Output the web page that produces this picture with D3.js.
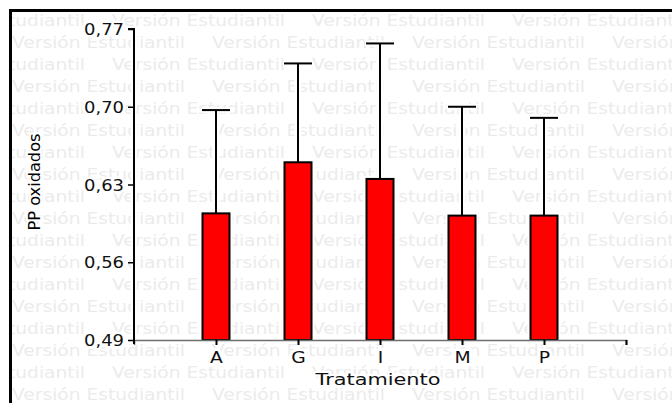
<!DOCTYPE html>
<html><head><meta charset="utf-8">
<script src="https://cdn.jsdelivr.net/npm/d3@7"></script>
<style>html,body{margin:0;padding:0;background:#fff;}svg{display:block;}</style>
</head><body>
<svg id="chart" width="672" height="403"></svg>
<script>
const categories = ["A", "G", "I", "M", "P"];
const means = [0.604, 0.650, 0.635, 0.602, 0.602];
const upper = [0.697, 0.739, 0.757, 0.700, 0.690];
const yTicks = [0.49, 0.56, 0.63, 0.70, 0.77];
const yLabel = "PP oxidados";
const xLabel = "Tratamiento";
const watermark = "Versión Estudiantil";

const svg = d3.select("#chart");
const W = 672, H = 403;
const FONT = "DejaVu Sans, Verdana, sans-serif";

svg.append("defs").append("clipPath").attr("id", "inner")
  .append("rect").attr("x", 12).attr("y", 12).attr("width", W).attr("height", H);

// watermark
const wm = svg.append("g").attr("clip-path", "url(#inner)");
for (let r = 0; r < 18; r++) {
  const baseY = 26 + 22 * r;
  const start = (r % 2 === 0) ? -88 : 12;
  for (let x = start; x < W; x += 200) {
    wm.append("text").attr("x", x).attr("y", baseY)
      .attr("font-family", FONT).attr("font-size", 16)
      .attr("fill", "#ecebeb")
      .attr("textLength", 173).attr("lengthAdjust", "spacingAndGlyphs")
      .text(watermark);
  }
}
svg.append("rect").attr("x", 10.5).attr("y", 10.5).attr("width", W).attr("height", H)
  .attr("fill", "none").attr("stroke", "#000").attr("stroke-width", 3);

// scales
const xDomain = ["__start"].concat(categories, ["__end"]);
const x = d3.scalePoint().domain(xDomain).range([134, 626]);
const y = d3.scaleLinear().domain([0.49, 0.77]).range([340, 29]);
const barW = 27;

const halo = svg.append("g");
const marks = svg.append("g");

categories.forEach((c, i) => {
  const cx = x(c);
  halo.append("rect").attr("x", cx - barW / 2 - 3).attr("y", y(means[i]) - 3)
    .attr("width", barW + 6).attr("height", y(0.49) - y(means[i]) + 3).attr("fill", "#fff");
  halo.append("line").attr("x1", cx).attr("x2", cx).attr("y1", y(means[i])).attr("y2", y(upper[i]))
    .attr("stroke", "#fff").attr("stroke-width", 7);
  halo.append("line").attr("x1", cx - 15).attr("x2", cx + 15).attr("y1", y(upper[i])).attr("y2", y(upper[i]))
    .attr("stroke", "#fff").attr("stroke-width", 6);
});
halo.append("line").attr("x1", 134).attr("x2", 134).attr("y1", 29).attr("y2", 345)
  .attr("stroke", "#fff").attr("stroke-width", 6);

// error bars
categories.forEach((c, i) => {
  const cx = x(c);
  marks.append("line").attr("x1", cx).attr("x2", cx).attr("y1", y(means[i])).attr("y2", y(upper[i]))
    .attr("stroke", "#000").attr("stroke-width", 2);
  marks.append("line").attr("x1", cx - 14).attr("x2", cx + 14).attr("y1", y(upper[i])).attr("y2", y(upper[i]))
    .attr("stroke", "#000").attr("stroke-width", 2);
});

// bars
marks.selectAll("rect.bar").data(categories).join("rect").attr("class", "bar")
  .attr("x", d => x(d) - barW / 2)
  .attr("y", (d, i) => y(means[i]))
  .attr("width", barW)
  .attr("height", (d, i) => y(0.49) - y(means[i]))
  .attr("fill", "#ff0000").attr("stroke", "#000").attr("stroke-width", 2);

// x axis
const xAxis = d3.axisBottom(x).tickValues(xDomain.slice(1)).tickSize(5).tickPadding(4)
  .tickFormat(d => categories.includes(d) ? d : "");
const gx = svg.append("g").attr("transform", "translate(0,340)").call(xAxis);
gx.select(".domain").attr("stroke", "#6e6e6e").attr("stroke-width", 1.5);
gx.selectAll(".tick line").attr("stroke", "#000").attr("stroke-width", 2);
gx.selectAll(".tick text").attr("font-family", FONT).attr("font-size", 15).attr("fill", "#111")
  .attr("dy", "0.95em")
  .attr("stroke", "#fff").attr("stroke-width", 5).attr("paint-order", "stroke")
  .attr("transform", "scale(1.25,1)");

// y axis
const yAxis = d3.axisLeft(y).tickValues(yTicks).tickSize(6).tickPadding(4)
  .tickFormat(d => d3.format(".2f")(d).replace(".", ","));
const gy = svg.append("g").attr("transform", "translate(134,0)").call(yAxis);
gy.select(".domain").attr("stroke", "#000").attr("stroke-width", 2)
  .attr("d", "M-6,29H0V344");
gy.selectAll(".tick line").attr("stroke", "#000").attr("stroke-width", 1.5);
gy.selectAll(".tick text").attr("font-family", FONT).attr("font-size", 15).attr("fill", "#111")
  .attr("dy", "0.38em")
  .attr("textLength", 40).attr("lengthAdjust", "spacingAndGlyphs")
  .attr("stroke", "#fff").attr("stroke-width", 5).attr("paint-order", "stroke");

// axis titles
svg.append("text").attr("x", 378).attr("y", 385)
  .attr("text-anchor", "middle").attr("font-family", FONT).attr("font-size", 15)
  .attr("fill", "#111").attr("textLength", 125).attr("lengthAdjust", "spacingAndGlyphs")
  .attr("stroke", "#fff").attr("stroke-width", 4).attr("paint-order", "stroke")
  .text(xLabel);
svg.append("text").attr("transform", "translate(40,182) rotate(-90)")
  .attr("text-anchor", "middle").attr("font-family", FONT).attr("font-size", 15)
  .attr("font-weight", "500")
  .attr("fill", "#000").attr("textLength", 97).attr("lengthAdjust", "spacingAndGlyphs")
  .attr("stroke", "#fff").attr("stroke-width", 4).attr("paint-order", "stroke")
  .text(yLabel);
</script>
</body></html>
